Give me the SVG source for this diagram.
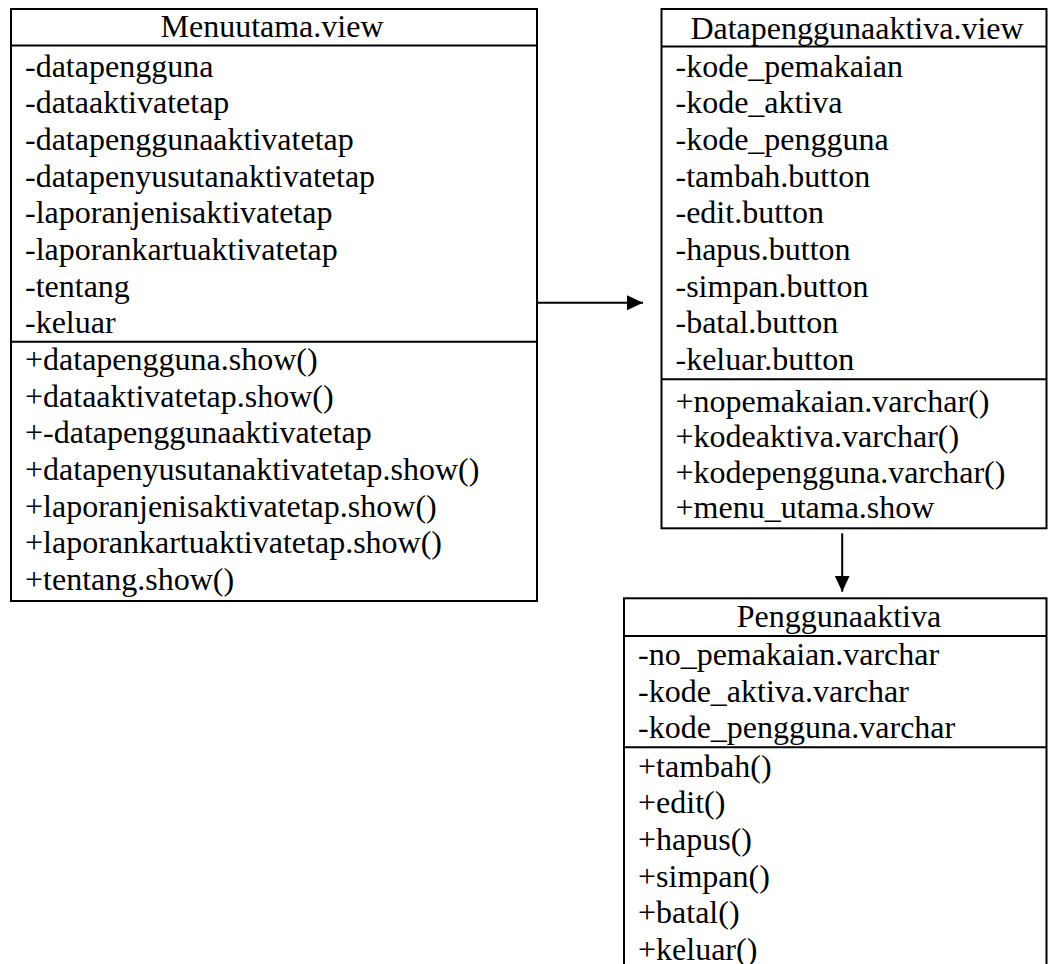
<svg xmlns="http://www.w3.org/2000/svg" width="1048" height="964" viewBox="0 0 1048 964">
<defs>
<style>
.box{fill:#fff;stroke:#000;stroke-width:2}
.sep{stroke:#000;stroke-width:2}
.t{font-family:"Liberation Serif","Times New Roman",serif;font-size:32px;fill:#000}
.h{text-anchor:middle}
.con{stroke:#000;stroke-width:2;fill:none}
</style>
<marker id="arr" markerWidth="16" markerHeight="16" refX="16" refY="7.5" orient="auto" markerUnits="userSpaceOnUse">
<path d="M0,0 L16,7.5 L0,15 Z" fill="#000"/>
</marker>
</defs>
<rect width="1048" height="964" fill="#fff"/>
<g id="menuutama">
<rect class="box" x="11" y="9" width="526" height="592"/>
<line class="sep" x1="11" y1="45.5" x2="537" y2="45.5"/>
<line class="sep" x1="11" y1="341.7" x2="537" y2="341.7"/>
<text class="t h" x="272" y="36.7">Menuutama.view</text>
<text class="t" x="25" y="76.7">-datapengguna</text>
<text class="t" x="25" y="113.3">-dataaktivatetap</text>
<text class="t" x="25" y="150">-datapenggunaaktivatetap</text>
<text class="t" x="25" y="186.7">-datapenyusutanaktivatetap</text>
<text class="t" x="25" y="223.3">-laporanjenisaktivatetap</text>
<text class="t" x="25" y="260">-laporankartuaktivatetap</text>
<text class="t" x="25" y="296.7">-tentang</text>
<text class="t" x="25" y="333.3">-keluar</text>
<text class="t" x="25" y="370">+datapengguna.show()</text>
<text class="t" x="25" y="406.7">+dataaktivatetap.show()</text>
<text class="t" x="25" y="443.3">+-datapenggunaaktivatetap</text>
<text class="t" x="25" y="480">+datapenyusutanaktivatetap.show()</text>
<text class="t" x="25" y="516.7">+laporanjenisaktivatetap.show()</text>
<text class="t" x="25" y="553.3">+laporankartuaktivatetap.show()</text>
<text class="t" x="25" y="590">+tentang.show()</text>
</g>
<g id="datapenggunaaktiva">
<rect class="box" x="661.5" y="9" width="385" height="519.3"/>
<line class="sep" x1="661.5" y1="46.5" x2="1046.5" y2="46.5"/>
<line class="sep" x1="661.5" y1="379.3" x2="1046.5" y2="379.3"/>
<text class="t h" x="857" y="39">Datapenggunaaktiva.view</text>
<text class="t" x="675.5" y="76.5">-kode_pemakaian</text>
<text class="t" x="675.5" y="113.2">-kode_aktiva</text>
<text class="t" x="675.5" y="149.9">-kode_pengguna</text>
<text class="t" x="675.5" y="186.6">-tambah.button</text>
<text class="t" x="675.5" y="223.3">-edit.button</text>
<text class="t" x="675.5" y="260">-hapus.button</text>
<text class="t" x="675.5" y="296.7">-simpan.button</text>
<text class="t" x="675.5" y="333.4">-batal.button</text>
<text class="t" x="675.5" y="370">-keluar.button</text>
<text class="t" x="675.5" y="411.7">+nopemakaian.varchar()</text>
<text class="t" x="675.5" y="447">+kodeaktiva.varchar()</text>
<text class="t" x="675.5" y="482.5">+kodepengguna.varchar()</text>
<text class="t" x="675.5" y="518">+menu_utama.show</text>
</g>
<g id="penggunaaktiva">
<rect class="box" x="624" y="598.3" width="422.5" height="420"/>
<line class="sep" x1="624" y1="636" x2="1046.5" y2="636"/>
<line class="sep" x1="624" y1="747.3" x2="1046.5" y2="747.3"/>
<text class="t h" x="839" y="626.7">Penggunaaktiva</text>
<text class="t" x="638" y="665">-no_pemakaian.varchar</text>
<text class="t" x="638" y="701.7">-kode_aktiva.varchar</text>
<text class="t" x="638" y="738.3">-kode_pengguna.varchar</text>
<text class="t" x="638" y="776.7">+tambah()</text>
<text class="t" x="638" y="813.3">+edit()</text>
<text class="t" x="638" y="850">+hapus()</text>
<text class="t" x="638" y="886.7">+simpan()</text>
<text class="t" x="638" y="923.3">+batal()</text>
<text class="t" x="638" y="960">+keluar()</text>
</g>
<g id="connectors">
<line class="con" x1="537" y1="302.7" x2="643" y2="302.7" marker-end="url(#arr)"/>
<line class="con" x1="842.2" y1="533.3" x2="842.2" y2="591.7" marker-end="url(#arr)"/>
</g>
</svg>
